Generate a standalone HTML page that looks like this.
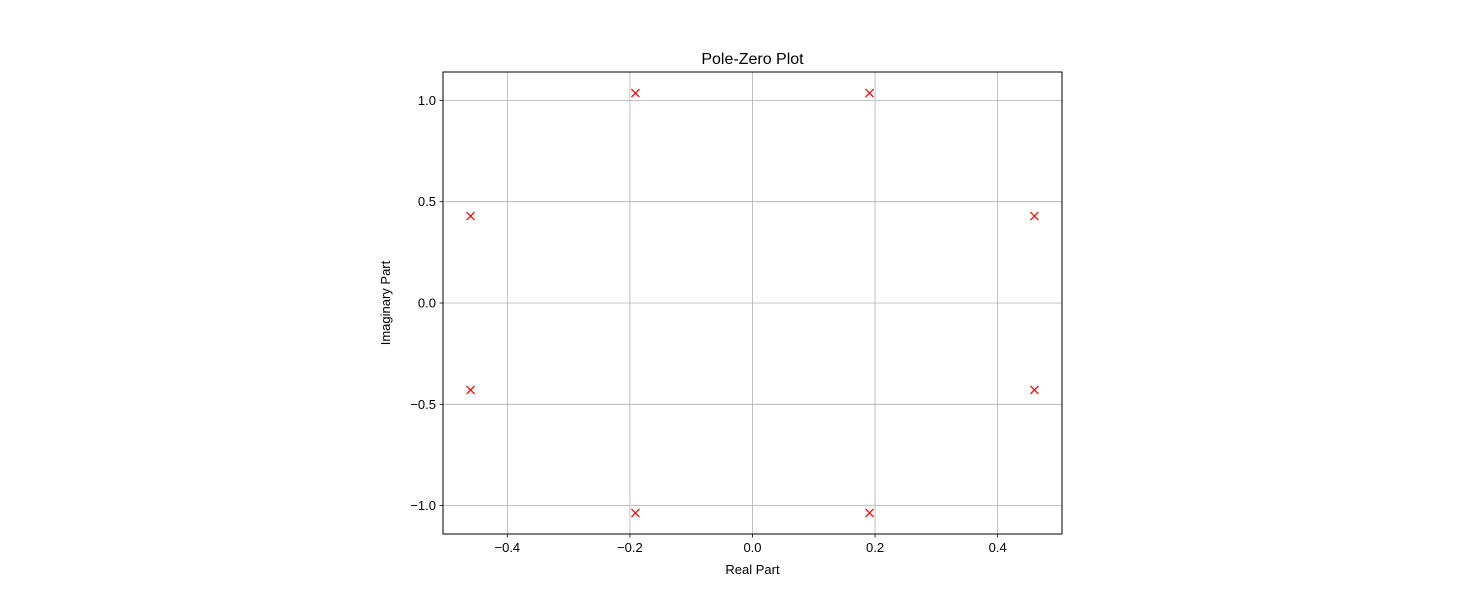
<!DOCTYPE html>
<html><head><meta charset="utf-8"><style>
body{margin:0;background:#fff}
text{font-family:"Liberation Sans","DejaVu Sans",sans-serif}
</style></head><body>
<svg id="chart" width="1481" height="598" xmlns="http://www.w3.org/2000/svg">
<rect width="1481" height="598" fill="#fff"/>
<g id="grid"></g>
<g id="ticks"></g>
<g id="marks"></g>
<rect x="443" y="72" width="619" height="462" fill="none" stroke="#000" stroke-width="1"/>
<text x="752.5" y="64" font-size="16" text-anchor="middle">Pole-Zero Plot</text>
<text x="752.5" y="574" font-size="13" text-anchor="middle">Real Part</text>
<text x="390" y="303" font-size="13" text-anchor="middle" transform="rotate(-90 390 303)">Imaginary Part</text>
</svg>
<script>
const poleReal=[-0.46,-0.191,0.191,0.46,0.46,0.191,-0.191,-0.46];
const poleImag=[0.429,1.036,1.036,0.429,-0.429,-1.036,-1.036,-0.429];
const xTicks=[-0.4,-0.2,0.0,0.2,0.4];
const yTicks=[-1.0,-0.5,0.0,0.5,1.0];
const xDom=[-0.505,0.505], yDom=[-1.14,1.14];
const L=443,R=1062,T=72,B=534;
const sx=v=>L+(v-xDom[0])/(xDom[1]-xDom[0])*(R-L);
const sy=v=>B-(v-yDom[0])/(yDom[1]-yDom[0])*(B-T);
const NS='http://www.w3.org/2000/svg';
function mk(tag,attrs,parent){const e=document.createElementNS(NS,tag);for(const k in attrs)e.setAttribute(k,attrs[k]);document.getElementById(parent).appendChild(e);return e;}
const fmt=v=>(v<0?'\u2212':'')+Math.abs(v).toFixed(1);
xTicks.forEach(v=>{const x=sx(v);
 let g=mk('line',{x1:x,x2:x,y1:T,y2:B,stroke:'#b0b0b0','stroke-width':0.8},'grid');
 
 
 let t=mk('line',{x1:x,x2:x,y1:B,y2:B+3.5,stroke:'#000','stroke-width':0.8},'ticks');
 
 
 let l=mk('text',{x:x,y:B+18,'font-size':13,'text-anchor':'middle'},'ticks');l.textContent=fmt(v);
 
 
});
yTicks.forEach(v=>{const y=sy(v);
 let g=mk('line',{x1:L,x2:R,y1:y,y2:y,stroke:'#b0b0b0','stroke-width':0.8},'grid');
 
 
 let t=mk('line',{x1:L-3.5,x2:L,y1:y,y2:y,stroke:'#000','stroke-width':0.8},'ticks');
 
 
 let l=mk('text',{x:L-7,y:y+4.5,'font-size':13,'text-anchor':'end'},'ticks');l.textContent=fmt(v);
 
 
});
poleReal.forEach((r,i)=>{const x=sx(r),y=sy(poleImag[i]),s=4;
 const p=mk('path',{d:`M${x-s},${y-s}L${x+s},${y+s}M${x-s},${y+s}L${x+s},${y-s}`,stroke:'#ff0000','stroke-width':1.2,fill:'none'},'marks');
 
 
});
</script>
</body></html>
